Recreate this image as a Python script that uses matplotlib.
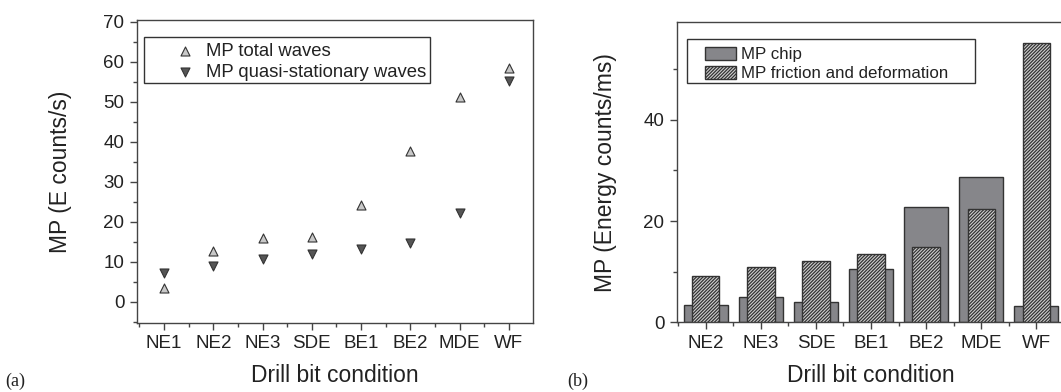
import numpy as np
import matplotlib
matplotlib.use('Agg')
import matplotlib.pyplot as plt
from matplotlib.ticker import MultipleLocator
from matplotlib.patches import Rectangle

plt.rcParams['font.family'] = ['Liberation Sans', 'DejaVu Sans']
plt.rcParams['hatch.linewidth'] = 0.9

# panel (a) data
cond_a = ['NE1', 'NE2', 'NE3', 'SDE', 'BE1', 'BE2', 'MDE', 'WF']
mp_total = [3.4, 12.7, 16.0, 16.3, 24.1, 37.8, 51.1, 58.5]
mp_quasi = [7.3, 9.0, 10.7, 11.9, 13.3, 14.7, 22.1, 55.1]

# panel (b) data
cond_b = ['NE2', 'NE3', 'SDE', 'BE1', 'BE2', 'MDE', 'WF']
mp_chip = [3.4, 4.9, 4.0, 10.5, 22.8, 28.7, 3.2]
mp_friction = [9.2, 10.9, 12.2, 13.5, 14.9, 22.3, 55.2]

W, H = 1061, 392
fig = plt.figure(figsize=(W / 100, H / 100), dpi=100)

txt = '#222222'
spine = '#444444'


def fx(x):
    return x / W


def fy(y):
    return 1 - y / H


def px_axes(x0, y0, x1, y1):
    return fig.add_axes([x0 / W, 1 - y1 / H, (x1 - x0) / W, (y1 - y0) / H])


def frame(x0, y0, x1, y1):
    fig.add_artist(Rectangle((fx(x0), fy(y1)), fx(x1 - x0), (y1 - y0) / H,
                             transform=fig.transFigure, fill=False,
                             edgecolor='#333333', linewidth=1.0))


def style(ax):
    for s in ax.spines.values():
        s.set_color(spine)
        s.set_linewidth(1.0)
    ax.tick_params(which='both', direction='out', colors=spine, labelcolor=txt, labelsize=13.5)
    ax.tick_params(which='major', length=5, width=1, pad=4)
    ax.tick_params(which='minor', length=3, width=1)
    ax.tick_params(top=False, right=False)


# ---- (a) ----
ax1 = px_axes(137, 20, 533, 323)
x1 = np.arange(1, len(cond_a) + 1)
ax1.scatter(x1, mp_total, marker='^', s=42, facecolor='#c8c8c8', edgecolor='#333333',
            linewidth=0.8, label='MP total waves', zorder=3)
ax1.scatter(x1, mp_quasi, marker='v', s=42, facecolor='#555555', edgecolor='#333333',
            linewidth=0.8, label='MP quasi-stationary waves', zorder=3)
ax1.set_xlim(0.45, 8.49)
ax1.set_ylim(-5.25, 70.4)
ax1.set_xticks(x1)
ax1.set_xticklabels(cond_a)
ax1.xaxis.set_minor_locator(MultipleLocator(0.5))
ax1.set_yticks(np.arange(0, 71, 10))
ax1.yaxis.set_minor_locator(MultipleLocator(5))
style(ax1)
ax1.set_xlabel('Drill bit condition', fontsize=16.5, color=txt)
ax1.set_ylabel('MP (E counts/s)', fontsize=16.5, color=txt)
ax1.xaxis.set_label_coords(0.5, -0.135)
ax1.yaxis.set_label_coords(-0.164, 0.5)
leg1 = ax1.legend(loc='upper left', bbox_to_anchor=(fx(176), fy(42.5)),
                  bbox_transform=fig.transFigure, fontsize=13.3, frameon=False,
                  handletextpad=0.62, borderpad=0, labelspacing=0.25,
                  borderaxespad=0, handlelength=1.0)
for t in leg1.get_texts():
    t.set_color(txt)
frame(144, 37, 430, 83)

# ---- (b) ----
ax2 = px_axes(677, 22, 1064, 322.3)
x2 = np.arange(1, len(cond_b) + 1)
ax2.bar(x2, mp_chip, width=0.8, color='#86868a', edgecolor='#333333', linewidth=1.0,
        label='MP chip', zorder=2)
ax2.bar(x2, mp_friction, width=0.5, color='#d0d0d0', edgecolor='#333333', linewidth=1.0,
        hatch='//////////', label='MP friction and deformation', zorder=3)
ax2.set_xlim(0.48, 7.5)
ax2.set_ylim(0, 59.3)
ax2.set_xticks(x2)
ax2.set_xticklabels(cond_b)
ax2.xaxis.set_minor_locator(MultipleLocator(0.5))
ax2.yaxis.set_major_locator(MultipleLocator(20))
ax2.yaxis.set_minor_locator(MultipleLocator(10))
style(ax2)
ax2.set_xlabel('Drill bit condition', fontsize=16.5, color=txt)
ax2.set_ylabel('MP (Energy counts/ms)', fontsize=16.5, color=txt)
ax2.xaxis.set_label_coords(0.5, -0.139)
ax2.yaxis.set_label_coords(-0.155, 0.5)
leg2 = ax2.legend(loc='upper left', bbox_to_anchor=(fx(705), fy(47)),
                  bbox_transform=fig.transFigure, fontsize=12.2, frameon=False,
                  handletextpad=0.3, borderpad=0, labelspacing=0.22,
                  borderaxespad=0, handlelength=1.83, handleheight=0.77)
for t in leg2.get_texts():
    t.set_color(txt)
frame(687, 39, 975, 83)

fig.text(fx(5), fy(381), '(a)', fontsize=13, family='Liberation Serif', color=txt, va='center')
fig.text(fx(567), fy(381), '(b)', fontsize=13, family='Liberation Serif', color=txt, va='center')

fig.savefig('out.png', dpi=100)
